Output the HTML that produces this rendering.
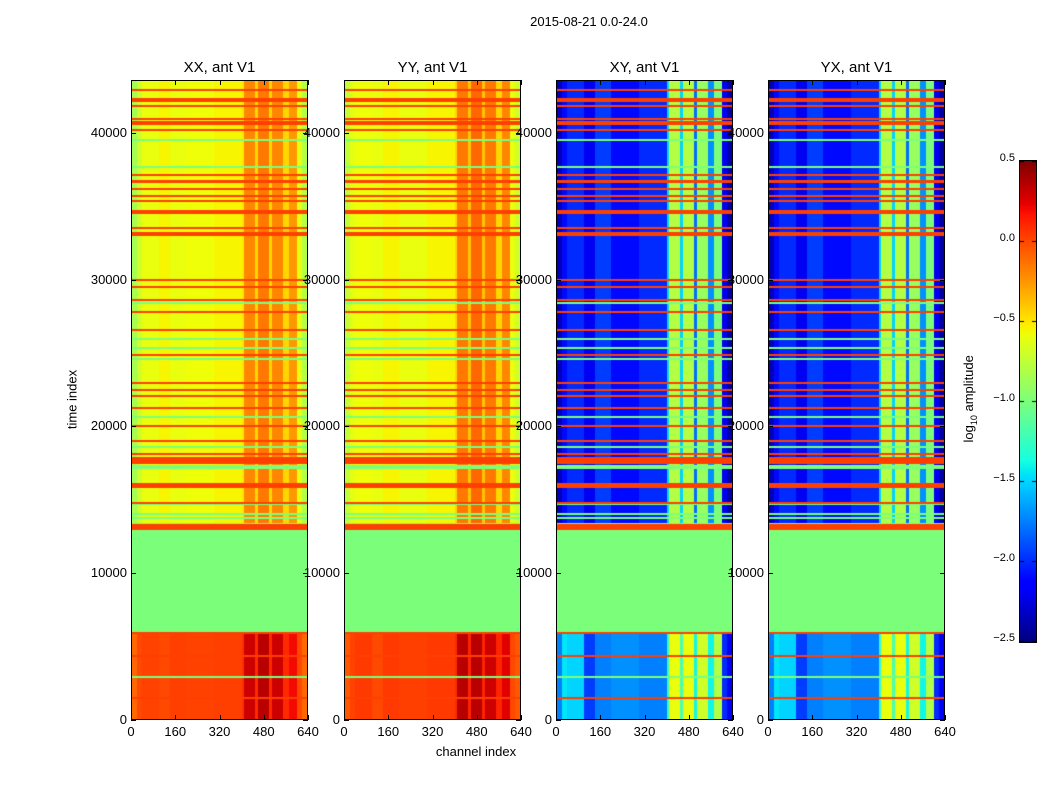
<!DOCTYPE html>
<html><head><meta charset="utf-8">
<style>
body{margin:0;background:#fff;width:1050px;height:800px;position:relative;overflow:hidden;font-family:"Liberation Sans",sans-serif;}
.t{position:absolute;color:#000;white-space:nowrap}
canvas{position:absolute}
</style></head>
<body>
<div class="t" style="left:489px;top:14px;width:200px;text-align:center;font-size:13px">2015-08-21 0.0-24.0</div>
<div id="root"></div>
<div class="t" style="left:376px;top:744px;width:200px;text-align:center;font-size:13px">channel index</div>
<div class="t" style="left:22px;top:392px;width:100px;text-align:center;font-size:13px;transform:rotate(-90deg)">time index</div>
<canvas id="cb" width="16" height="481" style="left:1019px;top:160px;border:1px solid #000;box-sizing:border-box"></canvas>
<div class="t" style="left:905px;top:390px;width:130px;text-align:center;font-size:13px;transform:rotate(-90deg)">log<sub style="font-size:9px">10</sub> amplitude</div>
<script>
// ---- data ----
var channelBins=[0,20,40,100,140,200,300,400,410,450,460,500,510,550,570,600,620,640];
var profXXupper=[-0.85,-0.7,-0.6,-0.55,-0.6,-0.58,-0.55,-0.5,-0.2,-0.45,-0.15,-0.45,-0.2,-0.45,-0.25,-0.6,-0.8];
var profXXlower=[-0.1,0.0,0.02,0.0,0.03,0.02,0.03,0.08,0.3,0.1,0.35,0.1,0.3,0.1,0.2,0.0,-0.1];
var profYYupper=[-0.75,-0.62,-0.58,-0.6,-0.55,-0.6,-0.55,-0.45,-0.15,-0.4,-0.1,-0.4,-0.15,-0.45,-0.2,-0.6,-0.7];
var profYYlower=[-0.05,0.02,0.05,0.0,0.05,0.03,0.05,0.1,0.35,0.12,0.35,0.12,0.3,0.12,0.25,0.0,-0.05];
var profXYupper=[-2.35,-2.1,-2.0,-2.2,-1.95,-2.1,-2.0,-1.5,-0.8,-1.5,-0.8,-1.8,-0.9,-1.7,-1.0,-2.2,-2.4];
var profXYlower=[-1.75,-1.45,-1.5,-1.95,-1.75,-1.7,-1.75,-1.3,-0.6,-1.2,-0.6,-1.4,-0.7,-1.4,-0.8,-2.0,-2.2];
var panelNames=["XX, ant V1","YY, ant V1","XY, ant V1","YX, ant V1"];
var emptyStart=6000, emptyEnd=13000, emptyValue=-1.0;
var redFlags=[42928,42247,41838,40952,40748,40611,40202,37136,36659,36182,35705,35364,34615,33525,33184,33048,29981,29504,28618,27800,26574,24870,22963,22486,22077,21260,20033,19011,18126,17700,16000,14785,13150,5928,4361,1499];
var redWidths=[60,160,60,60,60,60,60,60,120,60,60,60,160,60,60,60,100,60,60,80,60,60,60,60,60,60,120,60,60,400,270,60,300,60,60,60];
var greenFlags=[39521,37681,28414,25961,25348,24598,20646,18602,17239,14718,14037,13764,13355,2930];
var greenWidths=[60,60,60,60,60,60,80,60,200,60,60,60,60,80];
var flagValue=0.03, vmin=-2.5, vmax=0.5, tmax=43600, cmax=640;
var yTicks=[0,10000,20000,30000,40000];
var xTicks=[0,160,320,480,640];
var cbTicks=[0.5,0.0,-0.5,-1.0,-1.5,-2.0,-2.5];
// ---- layout ----
var panelX=[131,344,556,768], panelW=177, plotTop=80, plotBot=720;
var jetR=[[0,0],[0.35,0],[0.66,1],[0.89,1],[1,0.5]];
var jetG=[[0,0],[0.125,0],[0.375,1],[0.64,1],[0.91,0],[1,0]];
var jetB=[[0,0.5],[0.11,1],[0.34,1],[0.65,0],[1,0]];
function seg(s,x){for(var i=0;i<s.length-1;i++){if(x<=s[i+1][0]){var f=(x-s[i][0])/(s[i+1][0]-s[i][0]);return s[i][1]+f*(s[i+1][1]-s[i][1]);}}return s[s.length-1][1];}
function jet(v){var x=(v-vmin)/(vmax-vmin);x=Math.max(0,Math.min(1,x));
 return [Math.round(255*seg(jetR,x)),Math.round(255*seg(jetG,x)),Math.round(255*seg(jetB,x))];}
function yOf(t){return plotBot-(t/tmax)*(plotBot-plotTop);}
function profVal(p,ch){for(var i=0;i<channelBins.length-1;i++){if(ch<channelBins[i+1])return p[i];}return p[p.length-1];}
var profs=[[profXXupper,profXXlower],[profYYupper,profYYlower],[profXYupper,profXYlower],[profXYupper,profXYlower]];
function value(k,t,ch){
 for(var i=0;i<redFlags.length;i++){if(Math.abs(t-redFlags[i])<=redWidths[i]/2+35)return flagValue;}
 if(t>=emptyStart&&t<emptyEnd)return emptyValue;
 for(var j=0;j<greenFlags.length;j++){if(Math.abs(t-greenFlags[j])<=greenWidths[j]/2+35)return emptyValue;}
 return profVal(t<emptyStart?profs[k][1]:profs[k][0],ch);}
var root=document.getElementById('root');
var H=plotBot-plotTop;
for(var k=0;k<4;k++){
 var cv=document.createElement('canvas');
 
 
 cv.width=panelW;cv.height=H;
 cv.style.left=panelX[k]+'px';cv.style.top=plotTop+'px';
 var ctx=cv.getContext('2d'),img=ctx.createImageData(panelW,H);
 for(var py=0;py<H;py++){var t=(H-py-0.5)/H*tmax;
  for(var px=0;px<panelW;px++){var ch=(px+0.5)/panelW*cmax;var c=jet(value(k,t,ch));var o=(py*panelW+px)*4;
   img.data[o]=c[0];img.data[o+1]=c[1];img.data[o+2]=c[2];img.data[o+3]=255;}}
 ctx.putImageData(img,0,0);root.appendChild(cv);
 var fr=document.createElement('div');
 
 
 fr.style.cssText='position:absolute;left:'+panelX[k]+'px;top:'+plotTop+'px;width:'+panelW+'px;height:'+H+'px;border:1px solid #000;box-sizing:border-box';
 root.appendChild(fr);
 var ti=document.createElement('div');ti.className='t';
 
 
 ti.style.cssText='left:'+(panelX[k]-20)+'px;top:59px;width:'+(panelW+40)+'px;text-align:center;font-size:15px';
 ti.textContent=panelNames[k];root.appendChild(ti);
 (function(k){
 yTicks.forEach(function(v){var y=yOf(v);
  var l=document.createElement('div');l.className='t';
  
  
  l.style.cssText='left:'+(panelX[k]-64)+'px;top:'+(y-8)+'px;width:60px;text-align:right;font-size:13px';
  l.textContent=v;root.appendChild(l);
  ['left','right'].forEach(function(s){var m=document.createElement('div');
   
   
   m.style.cssText='position:absolute;top:'+Math.round(y)+'px;height:1px;width:5px;background:#000;left:'+(s=='left'?panelX[k]:panelX[k]+panelW-5)+'px';root.appendChild(m);});});
 xTicks.forEach(function(v){var x=panelX[k]+v/cmax*panelW;
  var l=document.createElement('div');l.className='t';
  
  
  l.style.cssText='left:'+(x-25)+'px;top:724px;width:50px;text-align:center;font-size:13px';
  l.textContent=v;root.appendChild(l);
  [plotTop,plotBot-5].forEach(function(yy){var m=document.createElement('div');
   
   
   m.style.cssText='position:absolute;left:'+Math.round(x)+'px;width:1px;height:5px;background:#000;top:'+yy+'px';root.appendChild(m);});});
 })(k);
}
var cb=document.getElementById('cb'),cc=cb.getContext('2d');
for(var i=0;i<481;i++){var v=vmax-(i/480)*(vmax-vmin);var c=jet(v);cc.fillStyle='rgb('+c.join(',')+')';cc.fillRect(0,i,16,1);}
cc.fillStyle='#000';
cbTicks.forEach(function(v){var y=160+(vmax-v)/(vmax-vmin)*480;
 cc.fillRect(0,Math.round(y-160),4,1);cc.fillRect(12,Math.round(y-160),4,1);
 var l=document.createElement('div');l.className='t';
 
 
 l.style.cssText='left:975px;top:'+(y-8)+'px;width:40px;text-align:right;font-size:11px';
 l.textContent=(v<0?'\u2212':'')+Math.abs(v).toFixed(1);document.body.appendChild(l);});
</script>
</body></html>
